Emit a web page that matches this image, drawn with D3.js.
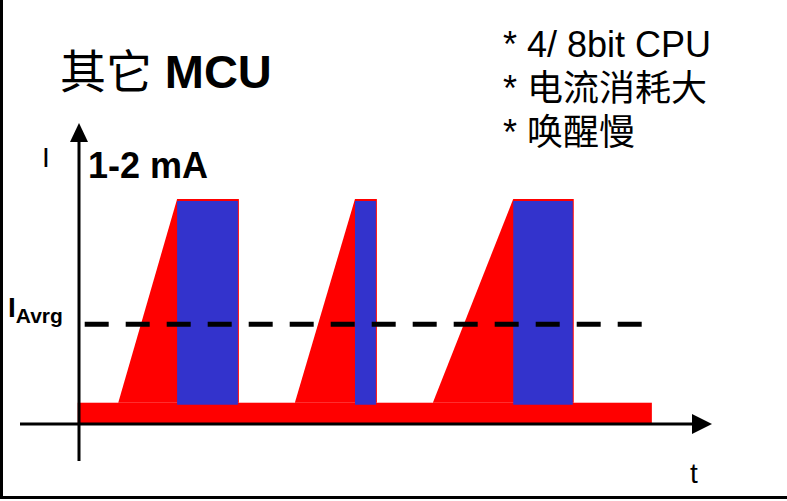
<!DOCTYPE html>
<html lang="zh">
<head>
	<meta charset="UTF-8">
	<title>其它 MCU</title>
	<script type="text/javascript" src="https://cdn.jsdelivr.net/npm/d3@7/dist/d3.min.js" charset="UTF-8"></script>
	<style>
		body { margin: 0; background: #fff; }
		text { font-family: "Liberation Sans", Arial, "Noto Sans CJK SC", sans-serif; }
	</style>
</head>
<body>
	<script>
	// time in arbitrary units, current in mA
	var pulses = [
		{ rampStart: 0.62, peak: 1.55, end: 2.51 },
		{ rampStart: 3.41, peak: 4.36, end: 4.69 },
		{ rampStart: 5.59, peak: 6.86, end: 7.80 }
	];
	var baseCurrent = 0.19,
		peakCurrent = 2.0,
		avgCurrent = 0.89,
		baseStart = -0.02,
		baseEnd = 9.05,
		avgStart = 0.09,
		avgEnd = 8.94;
	var notes = ['* 4/ 8bit CPU', '* 电流消耗大', '* 唤醒慢'];

	var width = 787,
		height = 501;

	var svg = d3.select('body').append('svg')
		.attr('width', width)
		.attr('height', height);

	var xScale = d3.scaleLinear()
		.domain([0, 10])
		.range([79, 712]);
	var yScale = d3.scaleLinear()
		.domain([0, 2])
		.range([424, 200]);

	// frame (left and bottom)
	svg.append('line').attr('x1', 1.5).attr('y1', 0).attr('x2', 1.5).attr('y2', 499)
		.attr('stroke', '#000').attr('stroke-width', 3);
	svg.append('line').attr('x1', 0).attr('y1', 497.5).attr('x2', width).attr('y2', 497.5)
		.attr('stroke', '#000').attr('stroke-width', 3);

	// baseline current
	svg.append('rect')
		.attr('x', xScale(baseStart))
		.attr('y', yScale(baseCurrent))
		.attr('width', xScale(baseEnd) - xScale(baseStart))
		.attr('height', yScale(0) - yScale(baseCurrent))
		.attr('fill', '#ff0000');

	// wake-up ramps (red) and active time (blue)
	svg.selectAll('path.ramp')
		.data(pulses)
		.enter().append('path')
		.attr('class', 'ramp')
		.attr('fill', '#ff0000')
		.attr('d', d => d3.line()([
			[xScale(d.rampStart), yScale(baseCurrent)],
			[xScale(d.peak), yScale(peakCurrent) - 1],
			[xScale(d.end) + 1, yScale(peakCurrent) - 1],
			[xScale(d.end) + 1, yScale(baseCurrent)]
		]) + 'Z');

	svg.selectAll('rect.active')
		.data(pulses)
		.enter().append('rect')
		.attr('class', 'active')
		.attr('fill', '#3333cc')
		.attr('x', d => xScale(d.peak))
		.attr('y', yScale(peakCurrent) + 1)
		.attr('width', d => xScale(d.end) - xScale(d.peak))
		.attr('height', yScale(baseCurrent) - yScale(peakCurrent) + 1);

	// average current
	svg.append('line')
		.attr('x1', xScale(avgStart)).attr('x2', xScale(avgEnd))
		.attr('y1', yScale(avgCurrent)).attr('y2', yScale(avgCurrent))
		.attr('stroke', '#000')
		.attr('stroke-width', 5)
		.attr('stroke-dasharray', '24,17');

	// axes
	svg.append('line')
		.attr('x1', 20).attr('x2', 694)
		.attr('y1', yScale(0)).attr('y2', yScale(0))
		.attr('stroke', '#000').attr('stroke-width', 3);
	svg.append('path')
		.attr('d', `M692,${yScale(0) - 10}L712,${yScale(0)}L692,${yScale(0) + 10}Z`)
		.attr('fill', '#000');
	svg.append('line')
		.attr('x1', xScale(0)).attr('x2', xScale(0))
		.attr('y1', 461).attr('y2', 140)
		.attr('stroke', '#000').attr('stroke-width', 3);
	svg.append('path')
		.attr('d', `M${xScale(0) - 9},142L${xScale(0)},123L${xScale(0) + 9},142Z`)
		.attr('fill', '#000');

	// labels
	var title = svg.append('text').attr('x', 60).attr('y', 88).attr('font-size', 46);
	title.append('tspan').text('其它 ');
	title.append('tspan').attr('font-weight', 'bold').attr('font-size', 47).text('MCU');

	svg.append('text').attr('x', 88).attr('y', 178)
		.attr('font-size', 36).attr('font-weight', 'bold').text('1-2 mA');

	svg.append('text').attr('x', 42).attr('y', 167)
		.attr('font-size', 28).text('I');

	var avg = svg.append('text').attr('x', 8).attr('y', 317).attr('font-weight', 'bold');
	avg.append('tspan').attr('font-size', 28).text('I');
	avg.append('tspan').attr('font-size', 21).attr('dy', 6).text('Avrg');

	svg.append('text').attr('x', 690).attr('y', 483)
		.attr('font-size', 28).text('t');

	svg.selectAll('text.note')
		.data(notes)
		.enter().append('text')
		.attr('class', 'note')
		.attr('x', 503)
		.attr('y', (d, i) => 57 + i * 44)
		.attr('font-size', 36)
		.text(d => d);
	</script>
</body>
</html>
